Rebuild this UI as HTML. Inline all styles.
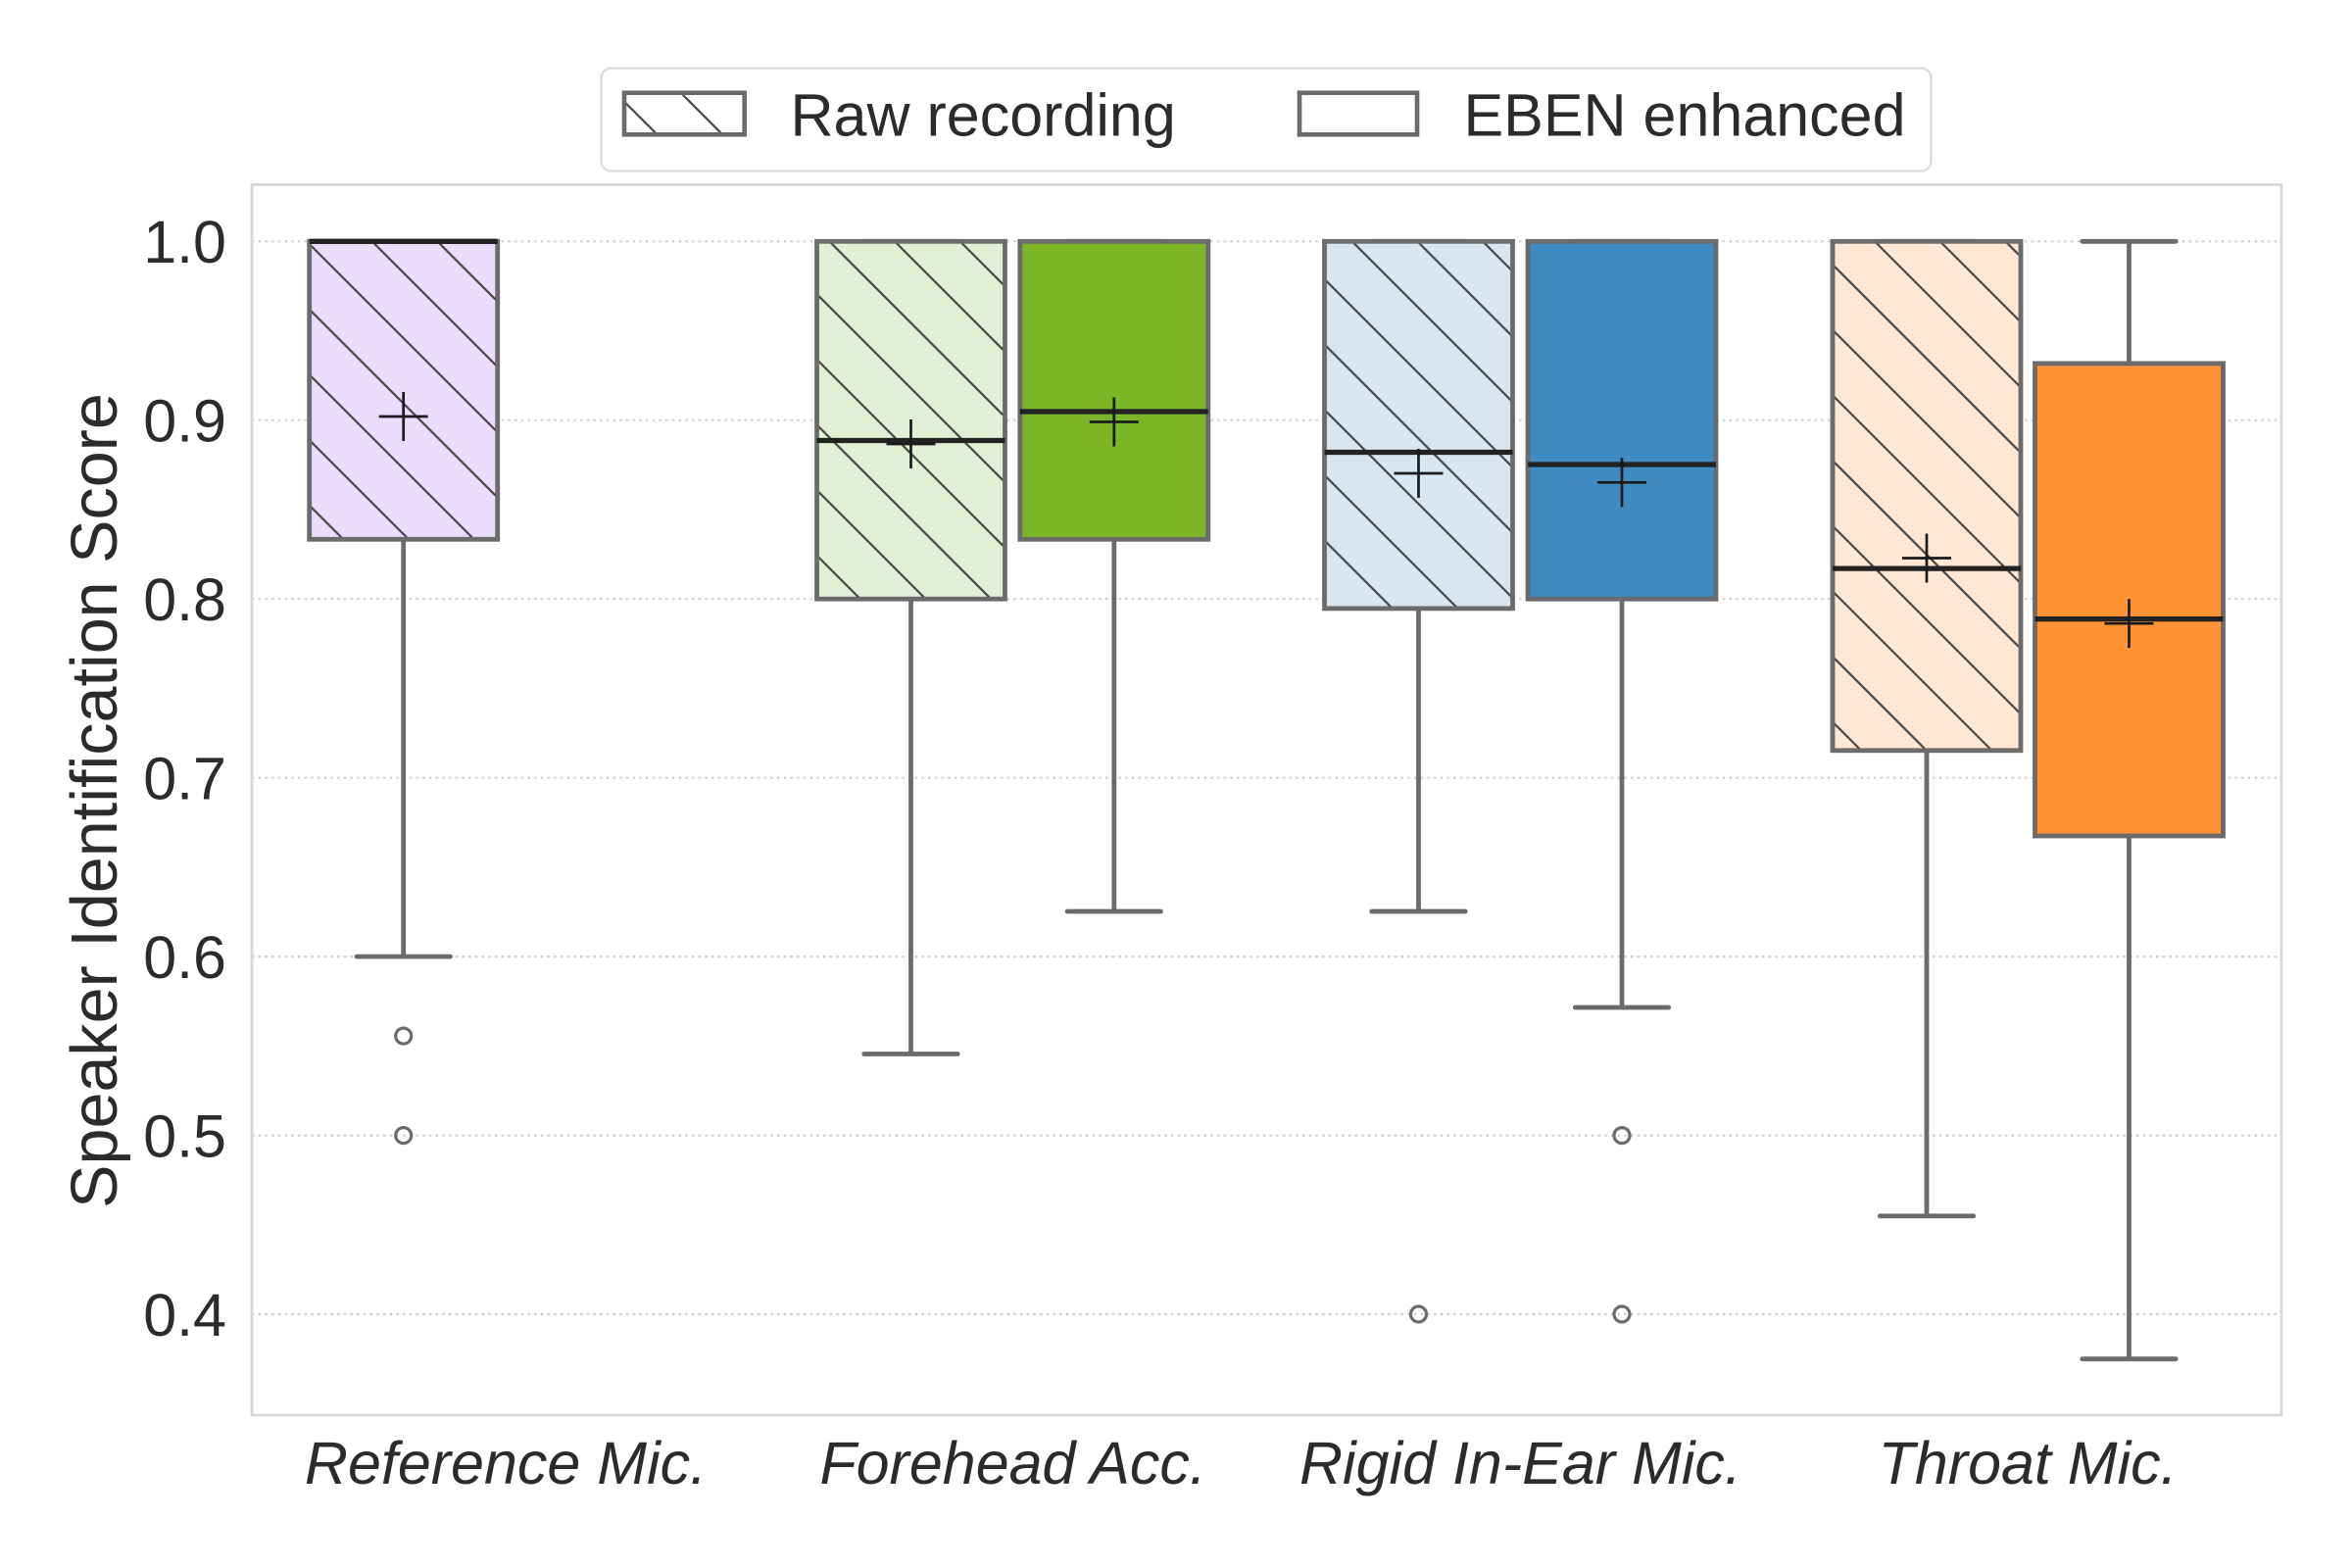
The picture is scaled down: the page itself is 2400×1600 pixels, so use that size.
<!DOCTYPE html>
<html><head><meta charset="utf-8"><style>
html,body{margin:0;padding:0;background:#fff;}
svg{display:block;}
text{font-family:"Liberation Sans",Arial,sans-serif;fill:#2b2b2b;}
</style></head><body>
<svg width="2400" height="1600" viewBox="0 0 2400 1600" xmlns="http://www.w3.org/2000/svg">
<defs>
<pattern id="h" patternUnits="userSpaceOnUse" x="0" y="0" width="66.667" height="66.667">
<line x1="-2" y1="-2" x2="68.667" y2="68.667" stroke="#404040" stroke-width="2.1"/>
<line x1="64.667" y1="-2" x2="68.667" y2="2" stroke="#404040" stroke-width="2.1"/>
<line x1="-2" y1="64.667" x2="2" y2="68.667" stroke="#404040" stroke-width="2.1"/>
</pattern>
</defs>
<rect width="2400" height="1600" fill="#fff"/>
<!-- axes -->
<rect x="257" y="188.5" width="2071" height="1255.5" fill="#fff"/>
<g stroke="#cfcfcf" stroke-width="2.2" stroke-dasharray="2.5 4.2">
<line x1="257" y1="246.3" x2="2328" y2="246.3"/>
<line x1="257" y1="428.7" x2="2328" y2="428.7"/>
<line x1="257" y1="611.2" x2="2328" y2="611.2"/>
<line x1="257" y1="793.7" x2="2328" y2="793.7"/>
<line x1="257" y1="976.1" x2="2328" y2="976.1"/>
<line x1="257" y1="1158.6" x2="2328" y2="1158.6"/>
<line x1="257" y1="1341" x2="2328" y2="1341"/>
</g>
<rect x="257" y="188.5" width="2071" height="1255.5" fill="none" stroke="#d6d6d6" stroke-width="2.7"/>

<!-- Box 1 Reference raw -->
<g>
<line x1="411.7" y1="550.3" x2="411.7" y2="976.1" stroke="#6b6b6b" stroke-width="4.8"/>
<line x1="364" y1="976.1" x2="459.4" y2="976.1" stroke="#6b6b6b" stroke-width="4.8" stroke-linecap="round"/>
<rect x="315.7" y="246.3" width="192" height="304" fill="#eadcfb"/>
<rect x="315.7" y="246.3" width="192" height="304" fill="url(#h)"/>
<rect x="315.7" y="246.3" width="192" height="304" fill="none" stroke="#6b6b6b" stroke-width="4.8"/>
<line x1="315.7" y1="246.3" x2="507.7" y2="246.3" stroke="#222" stroke-width="5.3"/>
<line x1="386.7" y1="425" x2="436.7" y2="425" stroke="#1a1a1a" stroke-width="2.7"/>
<line x1="411.7" y1="400" x2="411.7" y2="450" stroke="#1a1a1a" stroke-width="2.7"/>
<circle cx="411.7" cy="1057.1" r="8" fill="none" stroke="#6b6b6b" stroke-width="3.2"/>
<circle cx="411.7" cy="1158.6" r="8" fill="none" stroke="#6b6b6b" stroke-width="3.2"/>
</g>

<!-- Box 2 Forehead raw -->
<g>
<line x1="929.5" y1="611.2" x2="929.5" y2="1075.5" stroke="#6b6b6b" stroke-width="4.8"/>
<line x1="881.8" y1="1075.5" x2="977.2" y2="1075.5" stroke="#6b6b6b" stroke-width="4.8" stroke-linecap="round"/>
<line x1="881.8" y1="246.3" x2="977.2" y2="246.3" stroke="#6b6b6b" stroke-width="4.8" stroke-linecap="round"/>
<rect x="833.5" y="246.3" width="192" height="364.9" fill="#e2efd4"/>
<rect x="833.5" y="246.3" width="192" height="364.9" fill="url(#h)"/>
<rect x="833.5" y="246.3" width="192" height="364.9" fill="none" stroke="#6b6b6b" stroke-width="4.8"/>
<line x1="833.5" y1="449.5" x2="1025.5" y2="449.5" stroke="#222" stroke-width="5.3"/>
<line x1="904.5" y1="453" x2="954.5" y2="453" stroke="#1a1a1a" stroke-width="2.7"/>
<line x1="929.5" y1="428" x2="929.5" y2="478" stroke="#1a1a1a" stroke-width="2.7"/>
</g>

<!-- Box 3 Forehead EBEN -->
<g>
<line x1="1136.8" y1="550.3" x2="1136.8" y2="930" stroke="#6b6b6b" stroke-width="4.8"/>
<line x1="1089.1" y1="930" x2="1184.5" y2="930" stroke="#6b6b6b" stroke-width="4.8" stroke-linecap="round"/>
<line x1="1089.1" y1="246.3" x2="1184.5" y2="246.3" stroke="#6b6b6b" stroke-width="4.8" stroke-linecap="round"/>
<rect x="1040.8" y="246.3" width="192" height="304" fill="#7cb526"/>
<rect x="1040.8" y="246.3" width="192" height="304" fill="none" stroke="#6b6b6b" stroke-width="4.8"/>
<line x1="1040.8" y1="420" x2="1232.8" y2="420" stroke="#222" stroke-width="5.3"/>
<line x1="1111.8" y1="430.5" x2="1161.8" y2="430.5" stroke="#1a1a1a" stroke-width="2.7"/>
<line x1="1136.8" y1="405.5" x2="1136.8" y2="455.5" stroke="#1a1a1a" stroke-width="2.7"/>
</g>

<!-- Box 4 Rigid raw -->
<g>
<line x1="1447.5" y1="620.9" x2="1447.5" y2="930" stroke="#6b6b6b" stroke-width="4.8"/>
<line x1="1399.8" y1="930" x2="1495.2" y2="930" stroke="#6b6b6b" stroke-width="4.8" stroke-linecap="round"/>
<line x1="1399.8" y1="246.3" x2="1495.2" y2="246.3" stroke="#6b6b6b" stroke-width="4.8" stroke-linecap="round"/>
<rect x="1351.5" y="246.3" width="192" height="374.6" fill="#d7e6f1"/>
<rect x="1351.5" y="246.3" width="192" height="374.6" fill="url(#h)"/>
<rect x="1351.5" y="246.3" width="192" height="374.6" fill="none" stroke="#6b6b6b" stroke-width="4.8"/>
<line x1="1351.5" y1="461.5" x2="1543.5" y2="461.5" stroke="#222" stroke-width="5.3"/>
<line x1="1422.5" y1="483" x2="1472.5" y2="483" stroke="#1a1a1a" stroke-width="2.7"/>
<line x1="1447.5" y1="458" x2="1447.5" y2="508" stroke="#1a1a1a" stroke-width="2.7"/>
<circle cx="1447.5" cy="1341" r="8" fill="none" stroke="#6b6b6b" stroke-width="3.2"/>
</g>

<!-- Box 5 Rigid EBEN -->
<g>
<line x1="1655" y1="611.2" x2="1655" y2="1028" stroke="#6b6b6b" stroke-width="4.8"/>
<line x1="1607.3" y1="1028" x2="1702.7" y2="1028" stroke="#6b6b6b" stroke-width="4.8" stroke-linecap="round"/>
<line x1="1607.3" y1="246.3" x2="1702.7" y2="246.3" stroke="#6b6b6b" stroke-width="4.8" stroke-linecap="round"/>
<rect x="1559" y="246.3" width="192" height="364.9" fill="#3f8bc1"/>
<rect x="1559" y="246.3" width="192" height="364.9" fill="none" stroke="#6b6b6b" stroke-width="4.8"/>
<line x1="1559" y1="474" x2="1751" y2="474" stroke="#222" stroke-width="5.3"/>
<line x1="1630" y1="492.3" x2="1680" y2="492.3" stroke="#1a1a1a" stroke-width="2.7"/>
<line x1="1655" y1="467.3" x2="1655" y2="517.3" stroke="#1a1a1a" stroke-width="2.7"/>
<circle cx="1655" cy="1158.6" r="8" fill="none" stroke="#6b6b6b" stroke-width="3.2"/>
<circle cx="1655" cy="1341" r="8" fill="none" stroke="#6b6b6b" stroke-width="3.2"/>
</g>

<!-- Box 6 Throat raw -->
<g>
<line x1="1966" y1="765.8" x2="1966" y2="1240.8" stroke="#6b6b6b" stroke-width="4.8"/>
<line x1="1918.3" y1="1240.8" x2="2013.7" y2="1240.8" stroke="#6b6b6b" stroke-width="4.8" stroke-linecap="round"/>
<line x1="1918.3" y1="246.3" x2="2013.7" y2="246.3" stroke="#6b6b6b" stroke-width="4.8" stroke-linecap="round"/>
<rect x="1870" y="246.3" width="192" height="519.5" fill="#fee7d5"/>
<rect x="1870" y="246.3" width="192" height="519.5" fill="url(#h)"/>
<rect x="1870" y="246.3" width="192" height="519.5" fill="none" stroke="#6b6b6b" stroke-width="4.8"/>
<line x1="1870" y1="580.1" x2="2062" y2="580.1" stroke="#222" stroke-width="5.3"/>
<line x1="1941" y1="569.5" x2="1991" y2="569.5" stroke="#1a1a1a" stroke-width="2.7"/>
<line x1="1966" y1="544.5" x2="1966" y2="594.5" stroke="#1a1a1a" stroke-width="2.7"/>
</g>

<!-- Box 7 Throat EBEN -->
<g>
<line x1="2172.5" y1="853" x2="2172.5" y2="1386.7" stroke="#6b6b6b" stroke-width="4.8"/>
<line x1="2172.5" y1="370.9" x2="2172.5" y2="246.3" stroke="#6b6b6b" stroke-width="4.8"/>
<line x1="2124.8" y1="1386.7" x2="2220.2" y2="1386.7" stroke="#6b6b6b" stroke-width="4.8" stroke-linecap="round"/>
<line x1="2124.8" y1="246.3" x2="2220.2" y2="246.3" stroke="#6b6b6b" stroke-width="4.8" stroke-linecap="round"/>
<rect x="2076.5" y="370.9" width="192" height="482.1" fill="#ff9233"/>
<rect x="2076.5" y="370.9" width="192" height="482.1" fill="none" stroke="#6b6b6b" stroke-width="4.8"/>
<line x1="2076.5" y1="631.6" x2="2268.5" y2="631.6" stroke="#222" stroke-width="5.3"/>
<line x1="2147.5" y1="636.2" x2="2197.5" y2="636.2" stroke="#1a1a1a" stroke-width="2.7"/>
<line x1="2172.5" y1="611.2" x2="2172.5" y2="661.2" stroke="#1a1a1a" stroke-width="2.7"/>
</g>

<!-- y tick labels -->
<g font-size="61" text-anchor="end">
<text x="231" y="268">1.0</text>
<text x="231" y="450.5">0.9</text>
<text x="231" y="633">0.8</text>
<text x="231" y="815.5">0.7</text>
<text x="231" y="998">0.6</text>
<text x="231" y="1180.4">0.5</text>
<text x="231" y="1362.8">0.4</text>
</g>
<!-- y label -->
<text font-size="66.5" text-anchor="middle" transform="translate(119,817) rotate(-90)">Speaker Identification Score</text>
<!-- x tick labels -->
<g font-size="61" font-style="italic" text-anchor="middle">
<text x="516" y="1514">Reference Mic.</text>
<text x="1033.6" y="1514">Forehead Acc.</text>
<text x="1551.4" y="1514">Rigid In-Ear Mic.</text>
<text x="2069.1" y="1514">Throat Mic.</text>
</g>

<!-- legend -->
<rect x="613.5" y="69.5" width="1357" height="105" rx="10" ry="10" fill="#fff" stroke="#dadada" stroke-width="2.2"/>
<rect x="637" y="94.7" width="122.7" height="42.6" fill="#fff"/>
<rect x="637" y="94.7" width="122.7" height="42.6" fill="url(#h)"/>
<rect x="637" y="94.7" width="122.7" height="42.6" fill="none" stroke="#6b6b6b" stroke-width="4.6"/>
<text x="806.5" y="138.5" font-size="61">Raw recording</text>
<rect x="1326" y="94.7" width="120" height="42.6" fill="#fff" stroke="#6b6b6b" stroke-width="4.6"/>
<text x="1493.5" y="138.5" font-size="61">EBEN enhanced</text>
</svg>
</body></html>
